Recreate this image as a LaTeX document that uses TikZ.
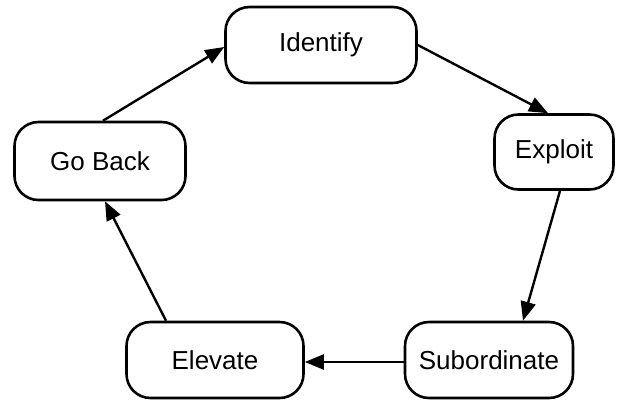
\documentclass[tikz,border=0pt]{standalone}
\usepackage{fontspec}
\setmainfont{Liberation Sans}
\usetikzlibrary{arrows.meta}
\begin{document}
\begin{tikzpicture}[x=1pt,y=-1pt,
  stepbox/.style={draw=black, line width=2.6pt, rounded corners=24pt,
    fill=white, inner sep=0pt, font=\fontsize{26}{30}\selectfont},
  flow/.style={draw=black, line width=2.4pt,
    -{Triangle[length=19pt,width=15pt]}}]
  \useasboundingbox (0,0) rectangle (617,400);
  \fill[white] (0,0) rectangle (617,400);

  % process steps
  \node[stepbox, minimum width=191pt, minimum height=76pt] (identify) at (321,45) {Identify};
  \node[stepbox, minimum width=119pt, minimum height=75pt] (exploit) at (554,152) {Exploit};
  \node[stepbox, minimum width=171pt, minimum height=78pt] (goback) at (100,161) {Go Back};
  \node[stepbox, minimum width=177pt, minimum height=76pt] (elevate) at (215,360) {Elevate};
  \node[stepbox, minimum width=168pt, minimum height=76pt] (subordinate) at (489,360) {Subordinate};

  % cycle connectors
  \draw[flow] ([xshift=3pt]goback.north) -- ([yshift=-2pt]identify.west);
  \draw[flow] (identify.east) -- ([xshift=-6pt]exploit.north);
  \draw[flow] ([xshift=6pt]exploit.south) -- ([xshift=34pt]subordinate.north);
  \draw[flow] ([yshift=-2pt]subordinate.west) -- ([yshift=-2pt]elevate.east);
  \draw[flow] ([xshift=-49pt]elevate.north) -- ([xshift=5pt]goback.south);
\end{tikzpicture}
\end{document}
